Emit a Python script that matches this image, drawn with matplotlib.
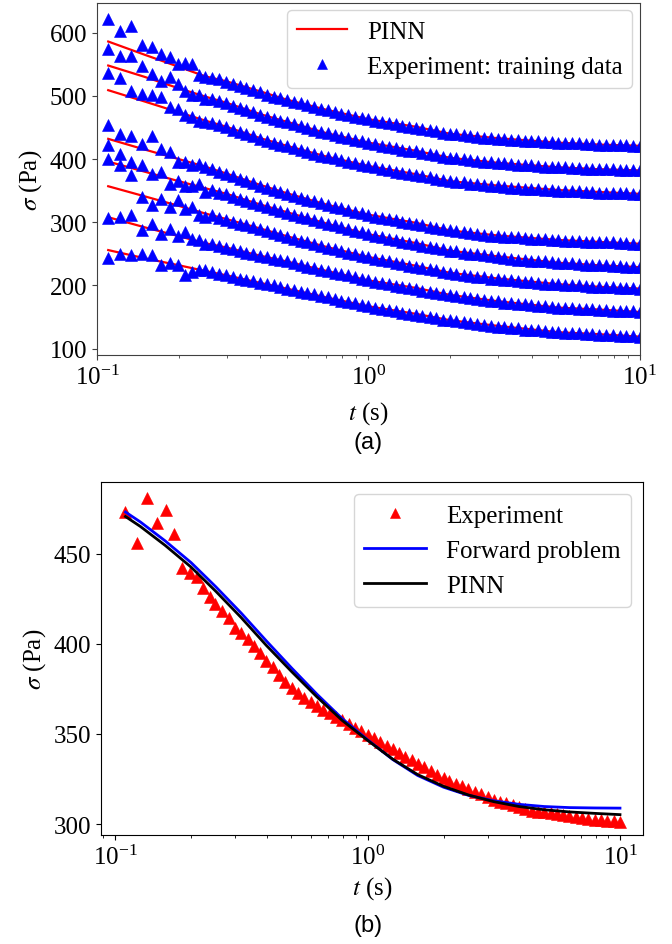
import matplotlib
matplotlib.use('Agg')
import matplotlib.pyplot as plt

plt.rcParams['font.family'] = 'serif'
plt.rcParams['font.serif'] = ['Liberation Serif', 'DejaVu Serif']
plt.rcParams['mathtext.fontset'] = 'stix'
plt.rcParams['axes.unicode_minus'] = False
plt.rcParams['font.size'] = 18

#%% data
# time points: noisy start, then the dense part
t_left = [0.11, 0.122, 0.134, 0.146, 0.159, 0.172, 0.185, 0.198, 0.211, 0.224, 0.237, 0.25]
t_dense = [0.266, 0.282, 0.299, 0.316, 0.335, 0.355, 0.376, 0.398, 0.422, 0.447,
           0.473, 0.501, 0.531, 0.562, 0.596, 0.631, 0.668, 0.708, 0.750, 0.794,
           0.841, 0.891, 0.944, 1.0, 1.06, 1.12, 1.19, 1.26, 1.33, 1.41,
           1.50, 1.58, 1.68, 1.78, 1.88, 2.0, 2.11, 2.24, 2.37, 2.51,
           2.66, 2.82, 2.99, 3.16, 3.35, 3.55, 3.76, 3.98, 4.22, 4.47,
           4.73, 5.01, 5.31, 5.62, 5.96, 6.31, 6.68, 7.08, 7.50, 7.94,
           8.41, 8.91, 9.44, 10.0]
t_exp = t_left + t_dense

# (a) experiment: training data, 8 stress levels (Pa)
sig_1 = [622, 602, 610, 581, 578, 567, 561, 550, 552, 550, 533, 530,
         529, 526, 522, 519, 515, 512, 509, 506, 502, 499, 496, 493, 490, 488, 485, 482,
         480, 477, 474, 472, 470, 467, 465, 463, 461, 459, 457, 455, 453, 451, 449, 447,
         446, 444, 442, 440, 439, 438, 437, 435, 434, 433, 432, 431, 430, 430, 429, 428,
         428, 427, 427, 426, 426, 425, 425, 424, 424, 423, 423, 423, 422, 422, 421, 421]
sig_2 = [574, 563, 563, 548, 535, 523, 530, 519, 507, 501, 501, 495,
         495, 492, 488, 484, 481, 477, 474, 470, 467, 464, 461, 458, 455, 452, 449, 446,
         443, 441, 438, 435, 433, 430, 428, 426, 424, 421, 419, 417, 415, 413, 412, 410,
         408, 406, 404, 402, 401, 400, 398, 397, 396, 395, 394, 393, 392, 391, 390, 390,
         389, 388, 388, 387, 387, 386, 386, 385, 385, 384, 384, 384, 383, 383, 382, 382]
sig_3 = [536, 528, 508, 503, 501, 498, 482, 480, 469, 466, 461, 458,
         457, 454, 450, 446, 443, 439, 436, 432, 429, 426, 423, 420, 417, 414, 411, 408,
         405, 404, 401, 398, 396, 393, 391, 389, 387, 384, 382, 380, 378, 376, 375, 373,
         371, 369, 367, 365, 364, 363, 361, 360, 359, 358, 357, 356, 355, 354, 353, 353,
         352, 351, 351, 350, 350, 349, 349, 348, 348, 347, 347, 347, 346, 346, 345, 345]
sig_4 = [454, 440, 437, 424, 437, 416, 411, 395, 395, 390, 392, 387,
         384, 380, 376, 373, 369, 365, 362, 358, 355, 351, 348, 345, 342, 339, 336, 333,
         330, 327, 324, 322, 319, 317, 314, 312, 309, 307, 305, 303, 301, 299, 297, 295,
         293, 291, 289, 287, 286, 284, 283, 282, 280, 279, 278, 277, 276, 276, 275, 274,
         273, 273, 272, 272, 271, 270, 270, 269, 269, 268, 268, 268, 267, 267, 266, 266]
sig_5 = [422, 408, 395, 390, 377, 379, 361, 366, 358, 358, 361, 348,
         351, 347, 344, 340, 337, 334, 331, 327, 324, 321, 318, 315, 312, 309, 306, 303,
         300, 297, 295, 292, 289, 286, 284, 281, 279, 276, 274, 272, 269, 267, 265, 263,
         261, 259, 257, 255, 254, 252, 250, 249, 248, 246, 245, 243, 242, 241, 240, 239,
         238, 238, 237, 236, 235, 235, 234, 233, 233, 232, 232, 231, 231, 230, 230, 229]
sig_6 = [400, 391, 374, 340, 327, 337, 324, 335, 321, 324, 311, 308,
         311, 307, 304, 301, 298, 295, 292, 289, 286, 283, 280, 277, 274, 271, 268, 266,
         263, 260, 258, 255, 252, 250, 247, 245, 242, 240, 238, 236, 234, 231, 230, 228,
         226, 224, 222, 220, 218, 217, 215, 214, 213, 211, 210, 209, 208, 207, 206, 205,
         204, 203, 202, 202, 201, 200, 200, 199, 198, 198, 197, 197, 196, 196, 196, 195]
sig_7 = [306, 308, 311, 287, 298, 282, 290, 279, 285, 274, 272, 266,
         265, 262, 260, 257, 255, 252, 250, 247, 245, 242, 240, 238, 235, 233, 230, 228,
         225, 223, 220, 218, 216, 213, 211, 208, 206, 204, 202, 199, 198, 196, 194, 192,
         190, 188, 187, 185, 183, 182, 180, 179, 177, 176, 175, 173, 172, 171, 170, 169,
         168, 167, 166, 165, 164, 164, 163, 162, 162, 161, 161, 160, 160, 159, 159, 158]
sig_8 = [243, 250, 248, 250, 248, 232, 235, 232, 216, 222, 224, 224,
         221, 218, 216, 214, 211, 209, 207, 204, 202, 200, 197, 195, 193, 190, 188, 186,
         183, 181, 179, 176, 174, 172, 169, 167, 165, 163, 161, 159, 157, 155, 153, 151,
         150, 148, 146, 145, 143, 142, 140, 139, 138, 136, 135, 134, 133, 132, 130, 129,
         129, 128, 127, 126, 125, 125, 124, 123, 123, 122, 121, 121, 120, 120, 120, 119]
sig_exp_a = [sig_1, sig_2, sig_3, sig_4, sig_5, sig_6, sig_7, sig_8]

# (a) PINN fits
t_pinn = [0.11, 0.15, 0.2, 0.25, 0.3, 0.4, 0.5, 0.7, 1.0, 1.5, 2.0, 3.0, 5.0, 7.0, 10.0]
pinn_1 = [586, 565, 546, 531, 523, 507, 494, 478, 463, 451, 440, 433, 426, 423, 421]
pinn_2 = [548, 530, 512, 499, 489, 471, 459, 441, 426, 413, 402, 394, 387, 384, 382]
pinn_3 = [509, 491, 474, 461, 451, 433, 421, 404, 389, 376, 365, 358, 351, 348, 345]
pinn_4 = [432, 415, 400, 388, 377, 359, 346, 328, 312, 299, 287, 279, 272, 269, 266]
pinn_5 = [396, 380, 365, 354, 345, 328, 316, 298, 281, 267, 255, 246, 236, 232, 229]
pinn_6 = [357, 341, 326, 314, 305, 290, 278, 261, 245, 231, 220, 211, 202, 198, 195]
pinn_7 = [308, 292, 278, 267, 260, 247, 238, 223, 208, 196, 185, 175, 165, 162, 158]
pinn_8 = [256, 243, 232, 223, 216, 204, 195, 181, 167, 155, 145, 136, 126, 123, 119]
pinn_a = [pinn_1, pinn_2, pinn_3, pinn_4, pinn_5, pinn_6, pinn_7, pinn_8]

# (b) single test case
sig_exp_b = [473, 456, 481, 467, 474, 461, 442, 439, 437, 431, 426, 422,
             418, 414, 409, 406, 402.5, 398.5, 395, 390.5, 387, 382.5,
             379, 375.5, 372.5, 370, 367.5, 365.5, 363.5, 361.5, 359.5, 357.5,
             355.5, 353.5, 351.5, 349.5, 347.5, 345.5, 343.5, 341.5, 339.5, 337.5,
             335.5, 333.5, 331.5, 329.5, 327.5, 325.5, 324, 322.5, 321, 319.5,
             318, 316.5, 315, 313.5, 312.5, 311.5, 310.5, 309.5, 308.5, 307.5,
             307, 306.5, 306, 305.5, 305, 304.5, 304, 303.5, 303, 302.5,
             302.5, 302, 301.5, 301]
t_model = [0.11, 0.126, 0.158, 0.2, 0.251, 0.316, 0.398, 0.501, 0.631, 0.794, 1.0,
           1.26, 1.58, 2.0, 2.51, 3.16, 3.98, 5.01, 6.31, 7.94, 10.0]
sig_forward = [473, 467.5, 457, 445, 431.5, 417, 401.5, 386.5, 372, 358.5, 346.8,
               335.8, 327, 320.5, 316, 313, 311, 309.8, 309.2, 309, 308.9]
sig_pinn_b = [470.5, 465, 454.5, 442.5, 429, 414.5, 399, 384.5, 370.5, 357.5, 346.5,
              336, 327.5, 321, 316.2, 312.5, 309.8, 308, 306.8, 306, 305.3]

#%% figure
fig = plt.figure(figsize=(6.72, 9.45), dpi=100)

# ---- (a)
ax1 = fig.add_axes([0.1443, 0.6233, 0.8080, 0.3725])
for i in range(len(pinn_a)):
    ax1.plot(t_pinn, pinn_a[i], color='r', lw=1.6, label='PINN' if i == 0 else None)
for i in range(len(sig_exp_a)):
    ax1.plot(t_exp, sig_exp_a[i], '^', color='b', ms=8.5, mew=0.4, ls='none',
             label='Experiment: training data' if i == 0 else None)
ax1.set_xscale('log')
ax1.set_xlim(0.1, 10)
ax1.set_ylim(90, 647)
ax1.set_yticks([100, 200, 300, 400, 500, 600])
ax1.set_xlabel(r'$t$ (s)', labelpad=7)
ax1.set_ylabel(r'$\sigma$ (Pa)')
for s in ax1.spines.values():
    s.set_color('0.25')
ax1.tick_params(which='both', color='0.25')
ax1.legend(loc='upper right', numpoints=1, fontsize=18, handlelength=2.0,
           borderaxespad=0.3, markerscale=0.8)

# ---- (b)
ax2 = fig.add_axes([0.1503, 0.1157, 0.8070, 0.3735])
ax2.plot(t_exp, sig_exp_b, '^', color='r', ms=8.5, mew=0.4, ls='none', label='Experiment')
ax2.plot(t_model, sig_forward, color='b', lw=2, label='Forward problem')
ax2.plot(t_model, sig_pinn_b, color='k', lw=2, label='PINN')
ax2.set_xscale('log')
ax2.set_xlim(0.088, 12.37)
ax2.set_ylim(294.2, 489.8)
ax2.set_yticks([300, 350, 400, 450])
ax2.set_xlabel(r'$t$ (s)')
ax2.set_ylabel(r'$\sigma$ (Pa)')
ax2.legend(loc='upper right', numpoints=1, fontsize=18, handlelength=2.5,
           borderaxespad=0.5, markerscale=0.8)

fig.text(0.548, 0.531, '(a)', ha='center', va='center', family='Liberation Sans', fontsize=17)
fig.text(0.548, 0.020, '(b)', ha='center', va='center', family='Liberation Sans', fontsize=17)

fig.savefig('out.png', dpi=100)
